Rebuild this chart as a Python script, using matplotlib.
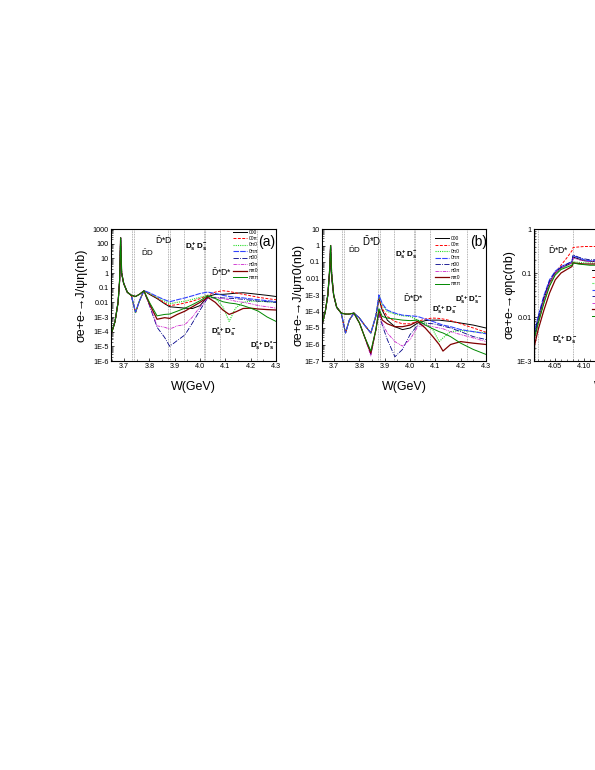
import numpy as np
import matplotlib
matplotlib.use('Agg')
import matplotlib.pyplot as plt
from matplotlib.ticker import FuncFormatter, LogLocator, NullFormatter, MultipleLocator

plt.rcParams['font.family'] = ['Liberation Sans', 'DejaVu Sans']
plt.rcParams['mathtext.fontset'] = 'custom'
plt.rcParams['mathtext.rm'] = 'Liberation Sans'
plt.rcParams['mathtext.bf'] = 'Liberation Sans:bold'
plt.rcParams['mathtext.it'] = 'Liberation Sans:italic'

# phase combinations (legend labels)
labels = ['000', '00π', '0π0', '0ππ', 'π00', 'π0π', 'ππ0', 'πππ']

# ---------------- panel (a): J/psi eta ----------------
W_a = [3.648, 3.664, 3.676, 3.682, 3.686, 3.690, 3.698, 3.712, 3.728, 3.745,
       3.760, 3.778, 3.800, 3.830, 3.860, 3.880, 3.910, 3.940, 3.970, 4.000,
       4.030, 4.060, 4.090, 4.115, 4.140, 4.170, 4.200, 4.230, 4.265, 4.300]
a_000 = [6e-5, 5e-4, 1e-2, 0.3, 250, 1.0, 0.2, 0.05, 0.03, 2e-3, 0.012, 0.062,
         0.035, 0.018, 0.008, 0.005, 0.0045, 0.004, 0.0038, 0.006, 0.025, 0.035,
         0.035, 0.038, 0.042, 0.045, 0.04, 0.035, 0.03, 0.025]
a_00p = [6e-5, 5e-4, 1e-2, 0.3, 250, 1.0, 0.2, 0.05, 0.03, 2e-3, 0.012, 0.062,
         0.038, 0.02, 0.009, 0.006, 0.007, 0.009, 0.012, 0.018, 0.03, 0.05,
         0.062, 0.055, 0.045, 0.035, 0.028, 0.022, 0.018, 0.015]
a_0p0 = [6e-5, 5e-4, 1e-2, 0.3, 250, 1.0, 0.2, 0.05, 0.03, 2e-3, 0.012, 0.062,
         0.04, 0.022, 0.012, 0.008, 0.01, 0.012, 0.016, 0.022, 0.03, 0.02,
         0.005, 5e-4, 4e-3, 0.01, 0.012, 0.012, 0.011, 0.01]
a_0pp = [6e-5, 5e-4, 1e-2, 0.3, 250, 1.0, 0.2, 0.05, 0.03, 2.2e-3, 0.012, 0.064,
         0.045, 0.025, 0.015, 0.011, 0.015, 0.02, 0.028, 0.04, 0.05, 0.04,
         0.03, 0.025, 0.022, 0.02, 0.017, 0.015, 0.013, 0.011]
a_p00 = [6e-5, 5e-4, 1e-2, 0.3, 250, 1.0, 0.2, 0.05, 0.03, 0.025, 0.035, 0.06,
         0.006, 2e-4, 4e-5, 1e-5, 2.5e-5, 6e-5, 4e-4, 3e-3, 0.02, 0.022,
         0.02, 0.019, 0.018, 0.016, 0.014, 0.012, 0.011, 0.01]
a_p0p = [6e-5, 5e-4, 1e-2, 0.3, 250, 1.0, 0.2, 0.05, 0.03, 0.025, 0.035, 0.06,
         0.007, 2.5e-4, 2e-4, 1.5e-4, 2.5e-4, 3e-4, 1e-3, 5e-3, 0.02, 0.02,
         0.018, 0.015, 0.012, 0.01, 0.008, 0.006, 0.005, 0.004]
a_pp0 = [6e-5, 5e-4, 1e-2, 0.3, 250, 1.0, 0.2, 0.05, 0.03, 0.025, 0.035, 0.06,
         0.008, 7e-4, 9e-4, 8e-4, 1.5e-3, 2.5e-3, 5e-3, 0.01, 0.022, 0.01,
         3e-3, 1.5e-3, 2.2e-3, 3.8e-3, 4e-3, 3.5e-3, 3.2e-3, 3e-3]
a_ppp = [6e-5, 5e-4, 1e-2, 0.3, 250, 1.0, 0.2, 0.05, 0.03, 0.025, 0.035, 0.06,
         0.01, 1.2e-3, 1.5e-3, 1.6e-3, 2.5e-3, 4e-3, 7e-3, 0.013, 0.028, 0.018,
         0.011, 0.009, 0.008, 0.006, 0.004, 2.5e-3, 1e-3, 5e-4]

# ---------------- panel (b): J/psi pi0 ----------------
W_b = [3.652, 3.665, 3.675, 3.682, 3.686, 3.690, 3.698, 3.710, 3.728, 3.745,
       3.760, 3.778, 3.800, 3.820, 3.845, 3.865, 3.877, 3.890, 3.910, 3.940,
       3.970, 4.000, 4.030, 4.060, 4.090, 4.115, 4.130, 4.160, 4.200, 4.250, 4.300]
b_000 = [1.5e-5, 1e-4, 1e-3, 0.02, 0.15, 0.01, 1e-3, 1.8e-4, 8e-5,
         5e-6, 3e-5, 8e-5, 4e-5, 1.5e-5, 5e-6, 5e-5, 6e-4, 1.2e-4, 3e-5, 1.2e-5,
         8e-6, 1e-5, 2e-5, 2.8e-5, 3e-5, 3e-5, 2.8e-5, 2.5e-5, 2e-5, 1.5e-5, 1e-5]
b_00p = [1.5e-5, 1e-4, 1e-3, 0.03, 1.0, 0.02, 1e-3, 1.8e-4, 8e-5,
         5e-6, 3e-5, 8e-5, 4e-5, 1.5e-5, 5e-6, 5.5e-5, 7e-4, 1.5e-4, 5e-5, 2.5e-5,
         1.8e-5, 1.8e-5, 2.5e-5, 3.5e-5, 4e-5, 3.8e-5, 3.5e-5, 2.8e-5, 1.8e-5, 1e-5, 5.5e-6]
b_0p0 = [1.5e-5, 1e-4, 1e-3, 0.03, 1.0, 0.02, 1e-3, 1.8e-4, 8e-5,
         5e-6, 3e-5, 8e-5, 4e-5, 1.5e-5, 5e-6, 6e-5, 9e-4, 2.5e-4, 1e-4, 7e-5,
         5.5e-5, 5e-5, 3e-5, 2e-5, 8e-6, 1.5e-6, 2.5e-6, 6e-6, 7e-6, 6e-6, 5e-6]
b_0pp = [1.5e-5, 1e-4, 1e-3, 0.03, 1.0, 0.02, 1e-3, 1.8e-4, 8e-5,
         5e-6, 3e-5, 8e-5, 4e-5, 1.5e-5, 5e-6, 6e-5, 1e-3, 3e-4, 1.2e-4, 8e-5,
         6e-5, 5.5e-5, 5e-5, 3.5e-5, 2.5e-5, 1.8e-5, 1.5e-5, 1.2e-5, 8e-6, 6e-6, 4.5e-6]
b_p00 = [1.5e-5, 1e-4, 1e-3, 0.03, 1.0, 0.02, 1e-3, 1.8e-4, 8e-5,
         7e-5, 7e-5, 8e-5, 2e-5, 3e-6, 2.5e-7, 8e-6, 7e-5, 1.5e-5, 2e-6, 1.8e-7,
         5e-7, 4e-6, 1.5e-5, 2e-5, 1.8e-5, 1.5e-5, 1.3e-5, 1e-5, 6e-6, 3e-6, 2e-6]
b_p0p = [1.5e-5, 1e-4, 1e-3, 0.03, 1.0, 0.02, 1e-3, 1.8e-4, 8e-5,
         7e-5, 7e-5, 8e-5, 2e-5, 3e-6, 2e-7, 8e-6, 8e-5, 2e-5, 5e-6, 1.5e-6,
         8e-7, 2e-6, 1.2e-5, 1.5e-5, 1.2e-5, 1e-5, 9e-6, 6e-6, 4e-6, 2.5e-6, 1.5e-6]
b_pp0 = [1.5e-5, 1e-4, 1e-3, 0.03, 1.0, 0.02, 1e-3, 1.8e-4, 8e-5,
         7e-5, 7e-5, 8e-5, 2e-5, 3e-6, 3e-7, 8e-6, 1.2e-4, 3e-5, 1.8e-5, 1.2e-5,
         1.2e-5, 1.5e-5, 2.5e-5, 1e-5, 3e-6, 1e-6, 4e-7, 1e-6, 1.5e-6, 1.2e-6, 1e-6]
b_ppp = [1.5e-5, 1e-4, 1e-3, 0.03, 1.0, 0.02, 1e-3, 1.8e-4, 8e-5,
         7e-5, 7e-5, 8e-5, 2e-5, 3e-6, 4e-7, 8e-6, 1.5e-4, 5e-5, 4e-5, 3.5e-5,
         3e-5, 2.8e-5, 3e-5, 1.5e-5, 9e-6, 6e-6, 5e-6, 3e-6, 1.2e-6, 5e-7, 2.5e-7]

# ---------------- panel (c): phi eta_c ----------------
W_c = [4.013, 4.020, 4.030, 4.040, 4.050, 4.060, 4.070, 4.079, 4.081, 4.090,
       4.100, 4.110, 4.125]
c_000 = [3.5e-3, 8e-3, 0.025, 0.06, 0.1, 0.13, 0.15, 0.17, 0.23, 0.21, 0.19, 0.185, 0.18]
c_00p = [3e-3, 7e-3, 0.022, 0.055, 0.1, 0.15, 0.22, 0.32, 0.38, 0.39, 0.4, 0.4, 0.4]
c_0p0 = [3e-3, 7e-3, 0.021, 0.052, 0.095, 0.125, 0.14, 0.155, 0.18, 0.175, 0.17, 0.17, 0.165]
c_0pp = [4e-3, 0.01, 0.03, 0.07, 0.11, 0.14, 0.16, 0.18, 0.25, 0.22, 0.2, 0.19, 0.19]
c_p00 = [3.8e-3, 9.5e-3, 0.028, 0.066, 0.105, 0.135, 0.158, 0.185, 0.26, 0.23, 0.21, 0.2, 0.2]
c_p0p = [2.5e-3, 7e-3, 0.023, 0.058, 0.1, 0.13, 0.15, 0.17, 0.22, 0.2, 0.19, 0.18, 0.18]
c_pp0 = [2e-3, 5e-3, 0.014, 0.035, 0.07, 0.1, 0.12, 0.14, 0.17, 0.165, 0.16, 0.16, 0.16]
c_ppp = [3e-3, 7e-3, 0.02, 0.05, 0.09, 0.12, 0.135, 0.15, 0.17, 0.16, 0.155, 0.15, 0.15]

# open-charm thresholds (GeV)
thr_ab = [3.730, 3.740, 3.872, 3.880, 3.936, 4.014, 4.020, 4.080, 4.224]
thr_c = [4.014, 4.020, 4.080]

# line styles for the 8 phase choices
styles = [
    dict(color='black', ls='-', lw=0.7),
    dict(color='red', ls=(0, (3, 1.5)), lw=0.7),
    dict(color='#22dd22', ls=(0, (1, 1)), lw=0.8),
    dict(color='#3344ff', ls=(0, (5, 1)), lw=0.8),
    dict(color='#000088', ls='-.', lw=0.6),
    dict(color='#cc22cc', ls=(0, (4, 1, 1, 1, 1, 1)), lw=0.6),
    dict(color='#800000', ls='-', lw=0.9),
    dict(color='#008800', ls='-', lw=0.7),
]

FW, FH = 595.0, 770.0


def fmt_log(v, pos):
    e = int(round(np.log10(v)))
    if e >= -2:
        return '%.10g' % v
    return '1E%d' % e


def SetupAxes(ax, xlim, ylim, xmajor, xminor, xfmt):
    ax.set_yscale('log')
    ax.set_xlim(*xlim)
    ax.set_ylim(*ylim)
    ax.yaxis.set_major_locator(LogLocator(base=10, numticks=30))
    ax.yaxis.set_minor_locator(LogLocator(base=10, subs=np.arange(2, 10), numticks=30))
    ax.yaxis.set_major_formatter(FuncFormatter(fmt_log))
    ax.yaxis.set_minor_formatter(NullFormatter())
    ax.xaxis.set_major_locator(MultipleLocator(xmajor))
    ax.xaxis.set_minor_locator(MultipleLocator(xminor))
    ax.xaxis.set_major_formatter(FuncFormatter(lambda v, p: xfmt % v))
    ax.tick_params(which='major', direction='in', labelsize=5.2, length=2.5,
                   width=0.5, pad=1.5)
    ax.tick_params(which='minor', direction='in', length=1.3, width=0.4)
    for s in ax.spines.values():
        s.set_linewidth(0.8)


def PlotPanel(ax, W, series, thresholds):
    for t in thresholds:
        ax.axvline(t, color='#999999', ls=(0, (1, 1)), lw=0.6, zorder=1)
    for vals, st, lab in zip(series, styles, labels):
        ax.plot(W, vals, label=lab, zorder=2, **st)


def AddLegend(ax, fig, px, py):
    ax.legend(loc='upper left', bbox_to_anchor=(px / FW, 1 - py / FH),
              bbox_transform=fig.transFigure, frameon=False, fontsize=3.5,
              handlelength=2.9, handletextpad=0.3, labelspacing=0.3,
              borderpad=0, borderaxespad=0)


fig = plt.figure(figsize=(5.95, 7.7), dpi=100)

def box(left, width):
    return [left / FW, 1 - 361 / FH, width / FW, 132 / FH]

ax_a = fig.add_axes(box(111, 165))
ax_b = fig.add_axes(box(322, 164))
ax_c = fig.add_axes(box(534, 165))

DS = 5.8  # size of the bold Ds labels

# --- (a)
PlotPanel(ax_a, W_a, [a_000, a_00p, a_0p0, a_0pp, a_p00, a_p0p, a_pp0, a_ppp], thr_ab)
SetupAxes(ax_a, (3.648, 4.3), (1e-6, 1000), 0.1, 0.05, '%.1f')
ax_a.set_ylabel('σe+e-→J/ψη(nb)', fontsize=9)
ax_a.yaxis.set_label_coords(-0.145, 0.5)
AddLegend(ax_a, fig, 233, 229.5)
ax_a.text(3.794, 23, r'$\bar{\rm D}$D', fontsize=5.8, ha='center', va='center')
ax_a.text(3.855, 180, r'$\bar{\rm D}$*D', fontsize=6.2, ha='center', va='center')
ax_a.text(3.987, 60, r'$\mathbf{D_s^+D_s^-}$', fontsize=DS, ha='center', va='center')
ax_a.text(4.085, 1.2, r'$\bar{\rm D}$*D*', fontsize=6.2, ha='center', va='center')
ax_a.text(4.092, 8.5e-5, r'$\mathbf{D_s^{*+}D_s^-}$', fontsize=DS, ha='center', va='center')
ax_a.text(4.25, 9.5e-6, r'$\mathbf{D_s^{*+}D_s^{*-}}$', fontsize=DS, ha='center', va='center')
ax_a.text(4.262, 130, '(a)', fontsize=10, ha='center', va='center')

# --- (b)
PlotPanel(ax_b, W_b, [b_000, b_00p, b_0p0, b_0pp, b_p00, b_p0p, b_pp0, b_ppp], thr_ab)
SetupAxes(ax_b, (3.652, 4.3), (1e-7, 10), 0.1, 0.05, '%.1f')
ax_b.set_ylabel('σe+e-→J/ψπ0(nb)', fontsize=9)
ax_b.yaxis.set_label_coords(-0.104, 0.5)
AddLegend(ax_b, fig, 435, 236)
ax_b.text(3.782, 0.53, r'$\bar{\rm D}$D', fontsize=5.8, ha='center', va='center')
ax_b.text(3.848, 1.95, r'$\bar{\rm D}$*D', fontsize=7, ha='center', va='center')
ax_b.text(3.987, 0.26, r'$\mathbf{D_s^+D_s^-}$', fontsize=DS, ha='center', va='center')
ax_b.text(4.013, 6.3e-4, r'$\bar{\rm D}$*D*', fontsize=6.2, ha='center', va='center')
ax_b.text(4.138, 1.25e-4, r'$\mathbf{D_s^{*+}D_s^-}$', fontsize=DS, ha='center', va='center')
ax_b.text(4.23, 5e-4, r'$\mathbf{D_s^{*+}D_s^{*-}}$', fontsize=DS, ha='center', va='center')
ax_b.text(4.27, 1.55, '(b)', fontsize=10, ha='center', va='center')

# --- (c) cut by the page edge
PlotPanel(ax_c, W_c, [c_000, c_00p, c_0p0, c_0pp, c_p00, c_p0p, c_pp0, c_ppp], thr_c)
SetupAxes(ax_c, (4.013, 4.3), (1e-3, 1), 0.05, 0.01, '%.2f')
ax_c.set_ylabel('σe+e-→φηc(nb)', fontsize=9)
ax_c.yaxis.set_label_coords(-0.115, 0.5)
AddLegend(ax_c, fig, 592, 268)
ax_c.text(4.055, 0.33, r'$\bar{\rm D}$*D*', fontsize=6.2, ha='center', va='center')
ax_c.text(4.067, 3e-3, r'$\mathbf{D_s^{*+}D_s^-}$', fontsize=DS, ha='center', va='center')

for ax in (ax_a, ax_b, ax_c):
    ax.set_xlabel('W(GeV)', fontsize=9)
    ax.xaxis.set_label_coords(0.5, -0.15)

plt.savefig('out.png', dpi=100)
plt.close()
